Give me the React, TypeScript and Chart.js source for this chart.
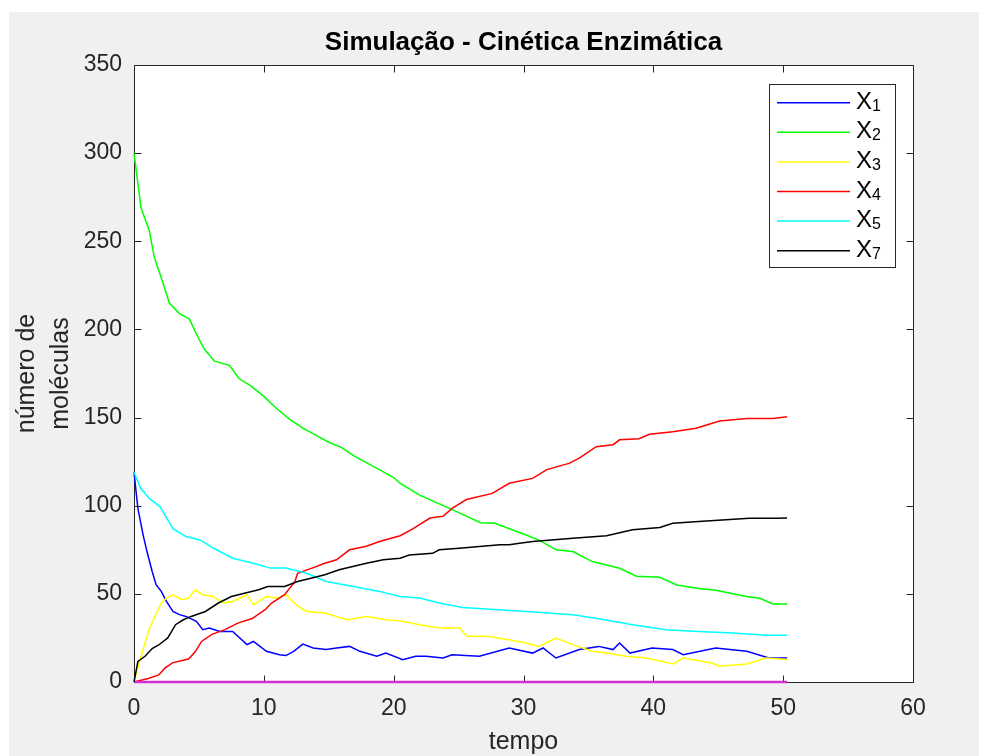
import React, { useEffect, useRef } from "react";
import { Chart, registerables } from "chart.js";

Chart.register(...registerables);

// ---- Data ----
const TITLE = "Simulação - Cinética Enzimática";
const X_LABEL = "tempo";
const Y_LABEL_LINES = ["número de", "moléculas"];
const X_TICKS = [0, 10, 20, 30, 40, 50, 60];
const Y_TICKS = [0, 50, 100, 150, 200, 250, 300, 350];

const LEGEND_NAMES = ["1", "2", "3", "4", "5", "7"];

const T1 = [0, 0.3, 0.7, 1, 1.4, 1.7, 2.1, 2.5, 3, 3.5, 4, 4.8, 5.3, 5.8, 6.6, 7.6, 8.7, 9.2, 10.2, 11.2, 11.7, 12.3, 13, 13.8, 14.8, 15.6, 16.6, 17.4, 18.7, 19.4, 20.7, 21.7, 22.5, 23.8, 24.5, 26.6, 28.9, 30.7, 31.5, 32.5, 34.3, 35.8, 36.9, 37.4, 38.2, 39.9, 41.5, 42.3, 44.8, 47.2, 48.9, 50.3];
const X1 = [119, 98.5, 83.5, 74, 62.7, 55.2, 51.4, 45.7, 40, 38.2, 37.2, 34.4, 29.7, 30.6, 28.7, 28.7, 21.2, 23, 17.4, 15.5, 15, 17.4, 21.5, 19.3, 18.4, 19.3, 20.2, 17.4, 14.6, 16.4, 12.7, 14.6, 14.6, 13.6, 15.5, 14.6, 19.3, 16.4, 19.3, 13.6, 18.4, 20.2, 18.4, 22.1, 16.4, 19.3, 18.4, 15.5, 19.3, 17.4, 13.6, 13.6];

const T2 = [0, 0.54, 1.18, 1.56, 2.2, 2.72, 3.5, 4.26, 4.9, 5.4, 6.2, 7.35, 8.1, 9, 10, 11, 12, 13, 14, 15, 16, 17, 18, 19, 20, 20.5, 22, 24.3, 26.7, 27.8, 30.2, 31.2, 32.5, 33.8, 35.3, 37.4, 38.7, 40.5, 41.8, 43.5, 44.8, 47.2, 48.2, 49.2, 50.3];
const X2 = [300, 269, 256, 241, 227, 215, 209, 206, 196, 189, 182, 179.6, 172, 168, 162, 155, 149, 144, 140, 136, 133, 128, 124, 120, 116, 112.6, 106, 98.5, 90.4, 90, 83.4, 80.5, 75, 74, 68.3, 64.5, 60, 59.4, 55, 53, 52, 48.5, 47.5, 44.3, 44.3];

const T3 = [0, 0.5, 1.2, 1.8, 2.1, 2.5, 3, 3.7, 4.2, 4.7, 5.3, 6.1, 6.9, 7.6, 8.7, 9.2, 10.2, 11, 11.7, 12.5, 13.3, 14.8, 16.4, 17.9, 19.4, 20.7, 22, 23.5, 25.1, 25.6, 27.2, 29.2, 30.2, 31.2, 32.5, 33.8, 35.3, 36.4, 37.9, 39.5, 41.5, 42.3, 44.5, 45.1, 47.2, 48.7, 50.3];
const X3 = [0, 13.6, 30.6, 40, 44.8, 47.6, 49.5, 46.7, 47.6, 52.3, 49.5, 48.5, 44.8, 45.7, 49.5, 43.8, 48.5, 47.6, 49.5, 43.8, 40, 39, 35.3, 37.2, 35.3, 34.4, 32.5, 30.6, 30.6, 25.9, 25.9, 23.5, 22.1, 20.2, 24.9, 21.2, 17.4, 16.4, 14.6, 13.6, 10.2, 13.6, 10.8, 8.9, 10.2, 13.6, 12.7];

const T4 = [0, 1.1, 1.9, 2.4, 3, 4.2, 4.7, 5.2, 6, 7, 8, 9.1, 10.1, 10.6, 11.6, 12.4, 12.6, 13.7, 14.7, 15.6, 16.6, 17.9, 18.9, 20.5, 21.5, 22.8, 23.8, 24.5, 25.6, 27.6, 28.9, 30.7, 31.8, 33.5, 34.3, 35.6, 36.9, 37.4, 38.9, 39.7, 41.5, 43.3, 45.1, 47.2, 49.2, 50.3];
const X4 = [0, 2, 4, 8, 11, 13, 17, 23, 27, 29.7, 33.4, 36, 41, 44.8, 49.5, 57, 61.7, 64.6, 67.4, 69.3, 75, 77, 79.7, 83, 87, 93, 94, 98.5, 103.5, 107, 112.7, 115.5, 120.5, 124, 127, 133.5, 134.6, 137.4, 138, 140.5, 142, 144, 148, 149.5, 149.5, 150.5];

const T5 = [0, 0.5, 1.2, 2, 3, 4, 5.1, 6.1, 7.6, 9.2, 10.5, 11.7, 13.3, 14.8, 16.9, 18.9, 20.5, 22, 23.5, 25.3, 30.2, 33.8, 35.8, 38.4, 41, 43.5, 46.1, 48.7, 50.3];
const X5 = [119, 110, 104, 99.5, 87, 82.5, 80.6, 76, 70.2, 67.4, 64.6, 64.6, 61.7, 57, 54.2, 51.4, 48.5, 47.6, 44.8, 42.3, 40, 38.2, 35.9, 32.5, 29.7, 28.7, 27.8, 26.5, 26.5];

const T6 = [0, 50.3];
const X6 = [0, 0];

const T7 = [0, 0.3, 0.85, 1.4, 1.9, 2.6, 3.2, 3.8, 4.4, 5.5, 6.5, 7.5, 8.5, 9.6, 10.3, 11.6, 12.6, 13.7, 14.7, 15.8, 17.9, 19.2, 20.5, 21.2, 23, 23.5, 25.3, 26.6, 28.2, 28.9, 29.7, 30.7, 33.8, 36.4, 38.4, 40.5, 41.5, 43.5, 45.6, 47.4, 49.5, 50.3];
const X7 = [0, 11.7, 14.6, 19, 21, 25, 32.5, 35.3, 37.2, 40, 44.8, 48.5, 50.4, 52.3, 54.2, 54.2, 57, 59, 60.8, 63.7, 67.4, 69.3, 70.2, 72, 73, 75, 76, 76.9, 77.8, 77.8, 78.7, 79.7, 81.6, 83, 86.3, 87.6, 90, 91, 92, 92.9, 92.9, 93];

const FONT = "'Liberation Sans', Arial, Helvetica, sans-serif";
const AX = "#262626";

function pts(t: number[], v: number[]) {
  return t.map((x, i) => ({ x, y: v[i] }));
}

const SERIES = [
  { key: "1", t: T1, v: X1, color: "#0000ff", legend: true },
  { key: "2", t: T2, v: X2, color: "#00ff00", legend: true },
  { key: "3", t: T3, v: X3, color: "#ffff00", legend: true },
  { key: "4", t: T4, v: X4, color: "#ff0000", legend: true },
  { key: "5", t: T5, v: X5, color: "#00ffff", legend: true },
  { key: "6", t: T6, v: X6, color: "#d030d0", legend: false },
  { key: "7", t: T7, v: X7, color: "#000000", legend: true },
];

const framePlugin = {
  id: "matlabFrame",
  beforeDraw(chart: any) {
    const { ctx, chartArea: a } = chart;
    ctx.save();
    ctx.fillStyle = "#f0f0f0";
    ctx.fillRect(0, 0, chart.width, chart.height);
    ctx.fillStyle = "#ffffff";
    ctx.fillRect(a.left, a.top, a.right - a.left, a.bottom - a.top);
    ctx.restore();
  },
  beforeDatasetsDraw(chart: any) {
    const { ctx, chartArea: a, scales } = chart;
    ctx.save();
    ctx.strokeStyle = AX;
    ctx.lineWidth = 1;
    const L = Math.round(a.left) + 0.5;
    const R = Math.round(a.right) + 0.5;
    const T = Math.round(a.top) + 0.5;
    const B = Math.round(a.bottom) + 0.5;
    ctx.beginPath();
    ctx.rect(L, T, R - L, B - T);
    ctx.stroke();
    const tl = 7;
    ctx.beginPath();
    X_TICKS.forEach((v) => {
      const x = Math.round(scales.x.getPixelForValue(v)) + 0.5;
      ctx.moveTo(x, B);
      ctx.lineTo(x, B - tl);
      ctx.moveTo(x, T);
      ctx.lineTo(x, T + tl);
    });
    Y_TICKS.forEach((v) => {
      const y = Math.round(scales.y.getPixelForValue(v)) + 0.5;
      ctx.moveTo(L, y);
      ctx.lineTo(L + tl, y);
      ctx.moveTo(R, y);
      ctx.lineTo(R - tl, y);
    });
    ctx.stroke();
    ctx.restore();
  },
  afterDraw(chart: any) {
    const { ctx, chartArea: a } = chart;
    ctx.save();
    const cx = (a.left + a.right) / 2;
    const cy = (a.top + a.bottom) / 2;
    // title
    ctx.fillStyle = "#000000";
    ctx.font = `bold 26px ${FONT}`;
    ctx.textAlign = "center";
    ctx.textBaseline = "middle";
    ctx.fillText(TITLE, cx, 31);
    // x label
    ctx.fillStyle = AX;
    ctx.font = `25px ${FONT}`;
    ctx.fillText(X_LABEL, cx, 730);
    // y label
    ctx.save();
    ctx.translate(0, cy);
    ctx.rotate(-Math.PI / 2);
    ctx.fillText(Y_LABEL_LINES[0], 0, 18);
    ctx.fillText(Y_LABEL_LINES[1], 0, 52);
    ctx.restore();
    // legend
    const lx0 = 760, ly0 = 72, lx1 = 886, ly1 = 255;
    ctx.fillStyle = "#ffffff";
    ctx.fillRect(lx0, ly0, lx1 - lx0, ly1 - ly0);
    ctx.strokeStyle = AX;
    ctx.lineWidth = 1;
    ctx.strokeRect(lx0 + 0.5, ly0 + 0.5, lx1 - lx0, ly1 - ly0);
    const items = SERIES.filter((s) => s.legend);
    items.forEach((s, i) => {
      const y = 90.7 + i * 29.6;
      ctx.strokeStyle = s.color;
      ctx.lineWidth = 1.5;
      ctx.beginPath();
      ctx.moveTo(768, y);
      ctx.lineTo(841, y);
      ctx.stroke();
      ctx.fillStyle = "#000000";
      ctx.textAlign = "left";
      ctx.textBaseline = "alphabetic";
      ctx.font = `24px ${FONT}`;
      ctx.fillText("X", 847, y + 6);
      const w = ctx.measureText("X").width;
      ctx.font = `16px ${FONT}`;
      ctx.fillText(LEGEND_NAMES[i], 847 + w, y + 8);
    });
    ctx.restore();
  },
};

export default function App() {
  const ref = useRef<HTMLCanvasElement>(null);
  useEffect(() => {
    if (!ref.current) return;
    const chart = new Chart(ref.current, {
      type: "line",
      data: {
        datasets: SERIES.map((s, i) => ({
          label: "X" + s.key,
          data: pts(s.t, s.v),
          borderColor: s.color,
          backgroundColor: s.color,
          borderWidth: s.key === "6" ? 2.5 : 1.5,
          pointRadius: 0,
          tension: 0,
          fill: false,
          clip: false as any,
          order: 10 - i,
        })),
      },
      options: {
        responsive: false,
        animation: false,
        events: [],
        layout: { padding: { left: 0, top: 53, right: 74, bottom: 0 } },
        plugins: {
          legend: { display: false },
          title: { display: false },
          tooltip: { enabled: false },
        },
        scales: {
          x: {
            type: "linear",
            min: 0,
            max: 60,
            afterBuildTicks: (s: any) => {
              s.ticks = X_TICKS.map((v) => ({ value: v }));
            },
            afterFit: (s: any) => {
              s.height = 74;
            },
            grid: { display: false, drawTicks: false },
            border: { display: false },
            ticks: {
              padding: 13,
              color: AX,
              font: { family: FONT, size: 23 },
              maxRotation: 0,
            },
          },
          y: {
            type: "linear",
            min: 0,
            max: 350,
            afterBuildTicks: (s: any) => {
              s.ticks = Y_TICKS.map((v) => ({ value: v }));
            },
            afterFit: (s: any) => {
              s.width = 125;
            },
            grid: { display: false, drawTicks: false },
            border: { display: false },
            ticks: {
              padding: 12,
              color: AX,
              font: { family: FONT, size: 23 },
            },
          },
        },
      },
      plugins: [framePlugin],
    });
    return () => chart.destroy();
  }, []);
  return (
    <div style={{ margin: "4px 0 0 1px", width: 978, height: 744 }}>
      <canvas ref={ref} width={978} height={744} style={{ display: "block", width: 978, height: 744 }} />
    </div>
  );
}
